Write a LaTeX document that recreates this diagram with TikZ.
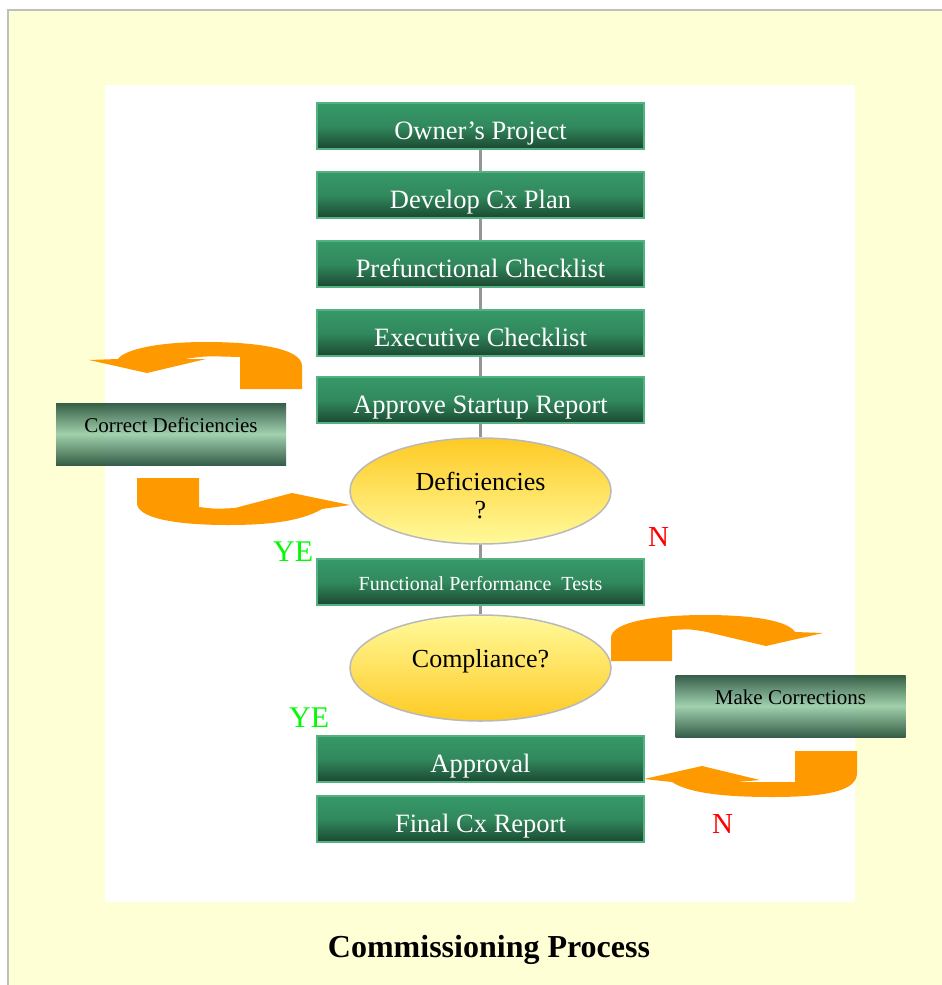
\documentclass[tikz,border=0pt]{standalone}
\usepackage{fontspec}
\setmainfont{Liberation Serif}
\usetikzlibrary{shapes,arrows,positioning,calc}
\definecolor{fondo}{RGB}{255,255,214}
\definecolor{verdeA}{RGB}{54,153,104}
\definecolor{verdeB}{RGB}{27,72,49}
\definecolor{verdeBorde}{RGB}{84,178,128}
\definecolor{verdeClaro}{RGB}{148,203,165}
\definecolor{amarilloA}{RGB}{254,202,36}
\definecolor{amarilloB}{RGB}{255,250,155}
\definecolor{naranja}{RGB}{255,153,0}
\definecolor{lineaGris}{RGB}{150,150,150}
\tikzset{
	stage/.style = {
		draw=verdeBorde,
		line width=1.5pt,
		rectangle,
		top color=verdeA,
		bottom color=verdeB,
		middle color=verdeA!80!verdeB,
		minimum width=327pt,
		minimum height=46pt,
		inner sep=0pt,
		text=white,
		font=\fontsize{26.5}{28}\selectfont,
		text height=28pt,
		text depth=2pt
	},
	decision/.style = {
		draw=gray!55,
		ellipse,
		line width=1.5pt,
		minimum width=261pt,
		minimum height=106pt,
		inner sep=0pt,
		align=center,
		font=\fontsize{26}{28}\selectfont
	},
	fixbox/.style = {
		rectangle,
		top color=verdeB,
		bottom color=verdeB,
		middle color=verdeClaro,
		fill opacity=0.88,
		text opacity=1,
		minimum width=230pt,
		minimum height=62pt,
		inner sep=0pt,
		font=\fontsize{21}{23}\selectfont,
		text height=14pt,
		text depth=18pt
	},
	link/.style = {
		draw=lineaGris,
		line width=2.5pt
	},
	turnarrow/.style = {
		fill=naranja
	},
	flagyes/.style = {
		text={rgb,255:red,0;green,250;blue,0},
		font=\fontsize{30}{32}\selectfont,
		inner sep=0pt,
		anchor=base west
	},
	flagno/.style = {
		text=red,
		font=\fontsize{29}{31}\selectfont,
		inner sep=0pt,
		anchor=base west
	}
}
\begin{document}
\begin{tikzpicture}[x=1pt, y=-1pt]
		\useasboundingbox (0,0) rectangle (942,985);
		
		% --- Fondo y panel ---
		\fill[fondo] (8,10) rectangle (942,985);
		\draw[gray!50, line width=2pt] (7.5,985) -- (7.5,9.5) -- (942,9.5);
		\fill[white] (105,85) rectangle (855,902);
		
		% --- Flechas curvas (lazos de corrección) ---
		\fill[turnarrow] (302,389) -- (302,366) .. controls (302,348) and (255,342) .. (205,342)
		.. controls (160,342) and (125,349) .. (118,359) -- (89,360) -- (147,373) -- (206,359)
		-- (185,359) .. controls (205,356) .. (240,357) -- (240,389) -- cycle;
		\fill[turnarrow] (137,478) -- (199,478) -- (199,507) .. controls (215,509) .. (235,508)
		-- (292,493) -- (350,505) -- (322,509) .. controls (300,522) and (265,525) .. (228,525)
		.. controls (175,525) and (137,518) .. (137,503) -- cycle;
		\fill[turnarrow] (611,661) -- (611,638) .. controls (611,622) and (655,615) .. (705,615)
		.. controls (755,615) and (788,621) .. (795,632) -- (823,633) -- (766,646) -- (707,632)
		.. controls (690,629) .. (672,630) -- (672,661) -- cycle;
		\fill[turnarrow] (857,751) -- (795,751) -- (795,782) -- (737,782) -- (760,780)
		-- (702,766) -- (644,779) -- (672,782) .. controls (690,794) and (730,797) .. (772,797)
		.. controls (830,797) and (857,790) .. (857,773) -- cycle;
		
		% --- Etapas del proceso ---
		\node[stage] (owner) at (480.5,126) {Owner’s Project};
		\node[stage] (plan) at (480.5,195) {Develop Cx Plan};
		\node[stage] (prefunc) at (480.5,264) {Prefunctional Checklist};
		\node[stage] (exec) at (480.5,333) {Executive Checklist};
		\node[stage] (startup) at (480.5,400) {Approve Startup Report};
		\node[decision, top color=amarilloA, bottom color=amarilloB, text height=56pt, text depth=2pt] (defic) at (480.5,491) {Deficiencies\\?};
		\node[stage, font=\fontsize{20}{22}\selectfont, text height=18pt] (fpt) at (480.5,582) {Functional Performance~ Tests};
		\node[decision, top color=amarilloB, bottom color=amarilloA, text height=18pt, text depth=20pt] (compl) at (480.5,668) {Compliance?};
		\node[stage] (approval) at (480.5,759) {Approval};
		\node[stage] (final) at (480.5,819) {Final Cx Report};
		
		% --- Cajas laterales ---
		\node[fixbox] (correct) at (171,434) {Correct Deficiencies};
		\node[fixbox] (make) at (790.5,706) {Make Corrections};
		
		% --- Respuestas ---
		\node[flagyes] (yes1) at (273,561) {YE};
		\node[flagyes] (yes2) at (289,727) {YE};
		\node[flagno] (no1) at (648,546) {N};
		\node[flagno] (no2) at (712,833) {N};
		
		% --- Conexiones ---
		\draw[link] (owner) -- (plan);
		\draw[link] (plan) -- (prefunc);
		\draw[link] (prefunc) -- (exec);
		\draw[link] (exec) -- (startup);
		\draw[link] (startup) -- (defic);
		\draw[link] (defic) -- (fpt);
		\draw[link] (fpt) -- (compl);
		
		% Titulo
		\node[font=\bfseries\fontsize{32}{34}\selectfont, anchor=base] (title) at (489,957) {Commissioning Process};
		
	\end{tikzpicture}
\end{document}
